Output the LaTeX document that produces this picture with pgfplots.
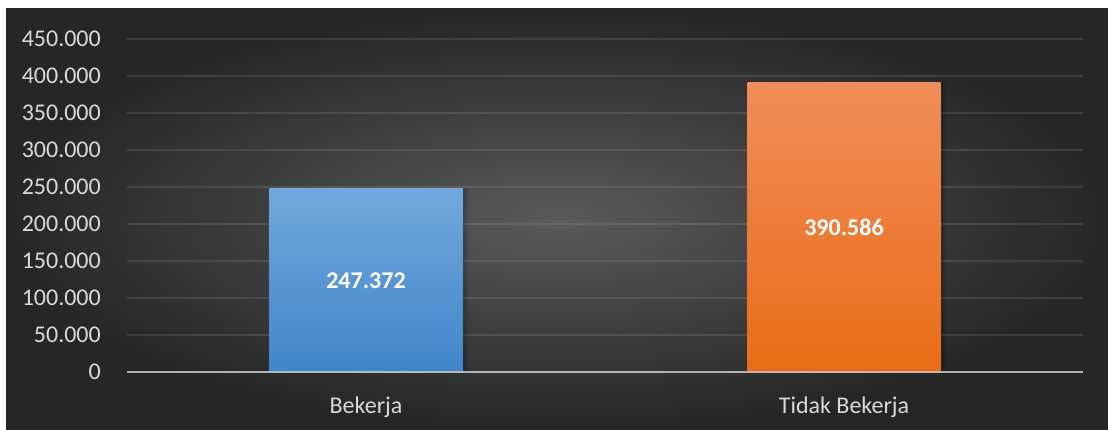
\documentclass[border=0pt]{standalone}
\usepackage{fontspec}
\setmainfont{Carlito}
\usepackage{pgfplots}
\pgfplotsset{compat=1.18}
\definecolor{ticktext}{HTML}{D9D9D9}
\definecolor{bgin}{HTML}{5A5A5A}
\definecolor{bgout}{HTML}{262626}
\definecolor{blueT}{HTML}{72A8DD}
\definecolor{blueB}{HTML}{4086C8}
\definecolor{orT}{HTML}{F18D5A}
\definecolor{orB}{HTML}{EA6C17}
\definecolor{zeroline}{HTML}{BFBFBF}
\begin{document}
\begin{tikzpicture}[x=1pt,y=1pt]
\fill[white] (0,0) rectangle (1108,429);
\shade[inner color=bgin, outer color=bgout] (6,0) rectangle (1108,420);
\begin{axis}[
  at={(127pt,57pt)}, anchor=south west,
  scale only axis, width=956pt, height=333pt,
  xmin=-0.5, xmax=1.5, ymin=0, ymax=450000,
  axis line style={draw=none},
  major tick length=0pt,
  xtick={0,1}, xticklabels={Bekerja, Tidak Bekerja},
  ytick={0,50000,100000,150000,200000,250000,300000,350000,400000,450000},
  scaled y ticks=false,
  /pgf/number format/.cd, fixed, 1000 sep={.}, assume math mode=true,
  /pgfplots/.cd,
  ymajorgrids,
  grid style={draw=white, opacity=0.1, line width=1.8pt},
  yticklabel style={font=\fontsize{24}{28}\selectfont, text=ticktext, inner sep=0pt, xshift=-26pt},
  xticklabel style={font=\fontsize{24}{28}\selectfont, text=ticktext, inner sep=0pt, yshift=-25pt},
  clip=false,
]
\addplot[ybar, bar width=193pt, bar shift=3pt, draw=none, fill=black, opacity=0.12] coordinates {(0,247372) (1,390586)};
\addplot[ybar, bar width=193pt, bar shift=6pt, draw=none, fill=black, opacity=0.08] coordinates {(0,247372) (1,390586)};
\addplot[ybar, bar width=193pt, bar shift=0pt, draw=none, top color=blueT, bottom color=blueB] coordinates {(0,247372)};
\addplot[ybar, bar width=193pt, bar shift=0pt, draw=none, top color=orT, bottom color=orB] coordinates {(1,390586)};
\addplot[zeroline, line width=2pt, opacity=0.9] coordinates {(-0.5,0) (1.5,0)};
\addplot[only marks, mark=none, point meta=explicit symbolic, nodes near coords,
  nodes near coords style={font=\bfseries\fontsize{24}{28}\selectfont, text=white, anchor=center}]
  coordinates {(0,123686) [247.372] (1,195293) [390.586]};
\end{axis}
\end{tikzpicture}
\end{document}
